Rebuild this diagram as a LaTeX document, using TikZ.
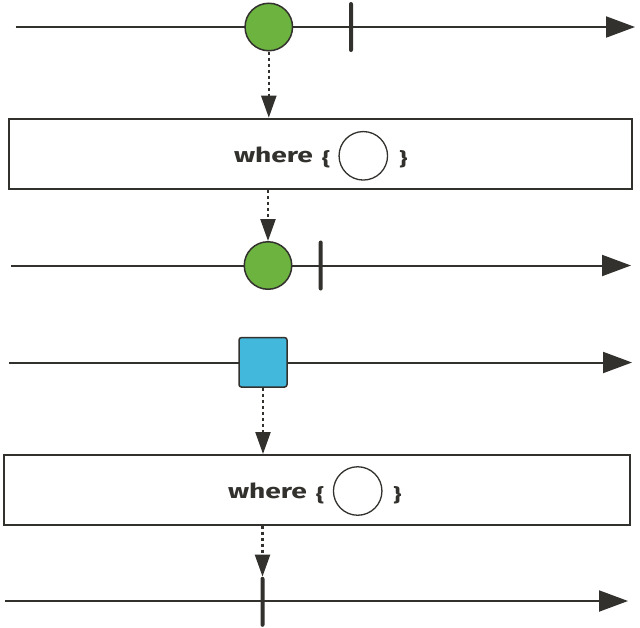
\documentclass[tikz,border=0pt]{standalone}
\usepackage{fontspec}
\setmainfont{Fira Sans}
\usetikzlibrary{arrows.meta}
\definecolor{ink}{RGB}{51,49,46}
\definecolor{mgreen}{RGB}{108,179,63}
\definecolor{mblue}{RGB}{66,184,221}
\tikzset{
  timeline/.style={draw=ink, line width=2pt, -{Triangle[length=29pt,width=21pt]}},
  flow/.style={draw=ink, line width=2.3pt, dash pattern=on 3.5pt off 2.5pt, -{Triangle[length=22pt,width=15pt]}},
  gdot/.style={circle, draw=ink, fill=mgreen, line width=1.5pt, minimum size=47.5pt, inner sep=0pt},
  bsq/.style={rectangle, rounded corners=2.5pt, draw=ink, fill=mblue, line width=1.5pt, minimum width=48pt, minimum height=49.5pt, inner sep=0pt},
  tick/.style={rectangle, rounded corners=2pt, fill=ink, minimum width=4pt, minimum height=50pt, inner sep=0pt},
  opbox/.style={rectangle, draw=ink, fill=white, line width=2pt, inner sep=0pt},
  emptydot/.style={circle, draw=ink, fill=white, line width=1.3pt, minimum size=48.5pt, inner sep=0pt},
  wtext/.style={anchor=base west, inner sep=0pt, text=ink},
  bracetext/.style={inner sep=0pt, text=ink},
}
\newcommand{\lbr}{\resizebox*{8pt}{17.5pt}{\bfseries\symbol{123}}}
\newcommand{\rbr}{\resizebox*{8pt}{17.5pt}{\bfseries\symbol{125}}}
\begin{document}
\begin{tikzpicture}[x=1pt, y=-1pt]
\useasboundingbox[fill=white] (0,0) rectangle (640,627);

% timelines
\coordinate (s1) at (15.5,27);   \coordinate (e1) at (635,27);
\coordinate (s2) at (11,265.5);  \coordinate (e2) at (631,265.5);
\coordinate (s3) at (9,362.5);   \coordinate (e3) at (632,362.5);
\coordinate (s4) at (5,601);     \coordinate (e4) at (628,601);
\draw[timeline] (s1) -- (e1);
\draw[timeline] (s2) -- (e2);
\draw[timeline] (s3) -- (e3);
\draw[timeline] (s4) -- (e4);

% first diagram
\node[gdot] (c1) at (268.8,27) {};
\node[tick] (k1) at (351,27) {};
\node[opbox, minimum width=623.3pt, minimum height=69.8pt] (b1) at (320.7,153.6) {};
\node[wtext] (w1) at (233.8,162.3) {\resizebox{79pt}{15.6pt}{\bfseries where}};
\node[bracetext] (l1) at (326.2,159.5) {\lbr};
\node[emptydot] (o1) at (363.3,155.8) {};
\node[bracetext] (r1) at (403.3,159.5) {\rbr};
\node[gdot] (c2) at (268,265.5) {};
\node[tick] (k2) at (320.7,265.5) {};
\draw[flow] (c1.south) -- (c1.south |- b1.north);
\draw[flow] (b1.south -| c2) -- (c2.north);

% second diagram
\node[bsq] (q1) at (263,362.3) {};
\node[opbox, minimum width=626.5pt, minimum height=69.5pt] (b2) at (316.75,489.75) {};
\node[wtext] (w2) at (227.8,498) {\resizebox{79pt}{15.6pt}{\bfseries where}};
\node[bracetext] (l2) at (320.2,495.2) {\lbr};
\node[emptydot] (o2) at (357.7,491) {};
\node[bracetext] (r2) at (397.3,495.2) {\rbr};
\node[tick] (k3) at (262.5,601.8) {};
\draw[flow] (q1.south) -- (q1.south |- b2.north);
\draw[flow] (b2.south -| k3) -- (k3.north);
\end{tikzpicture}
\end{document}
